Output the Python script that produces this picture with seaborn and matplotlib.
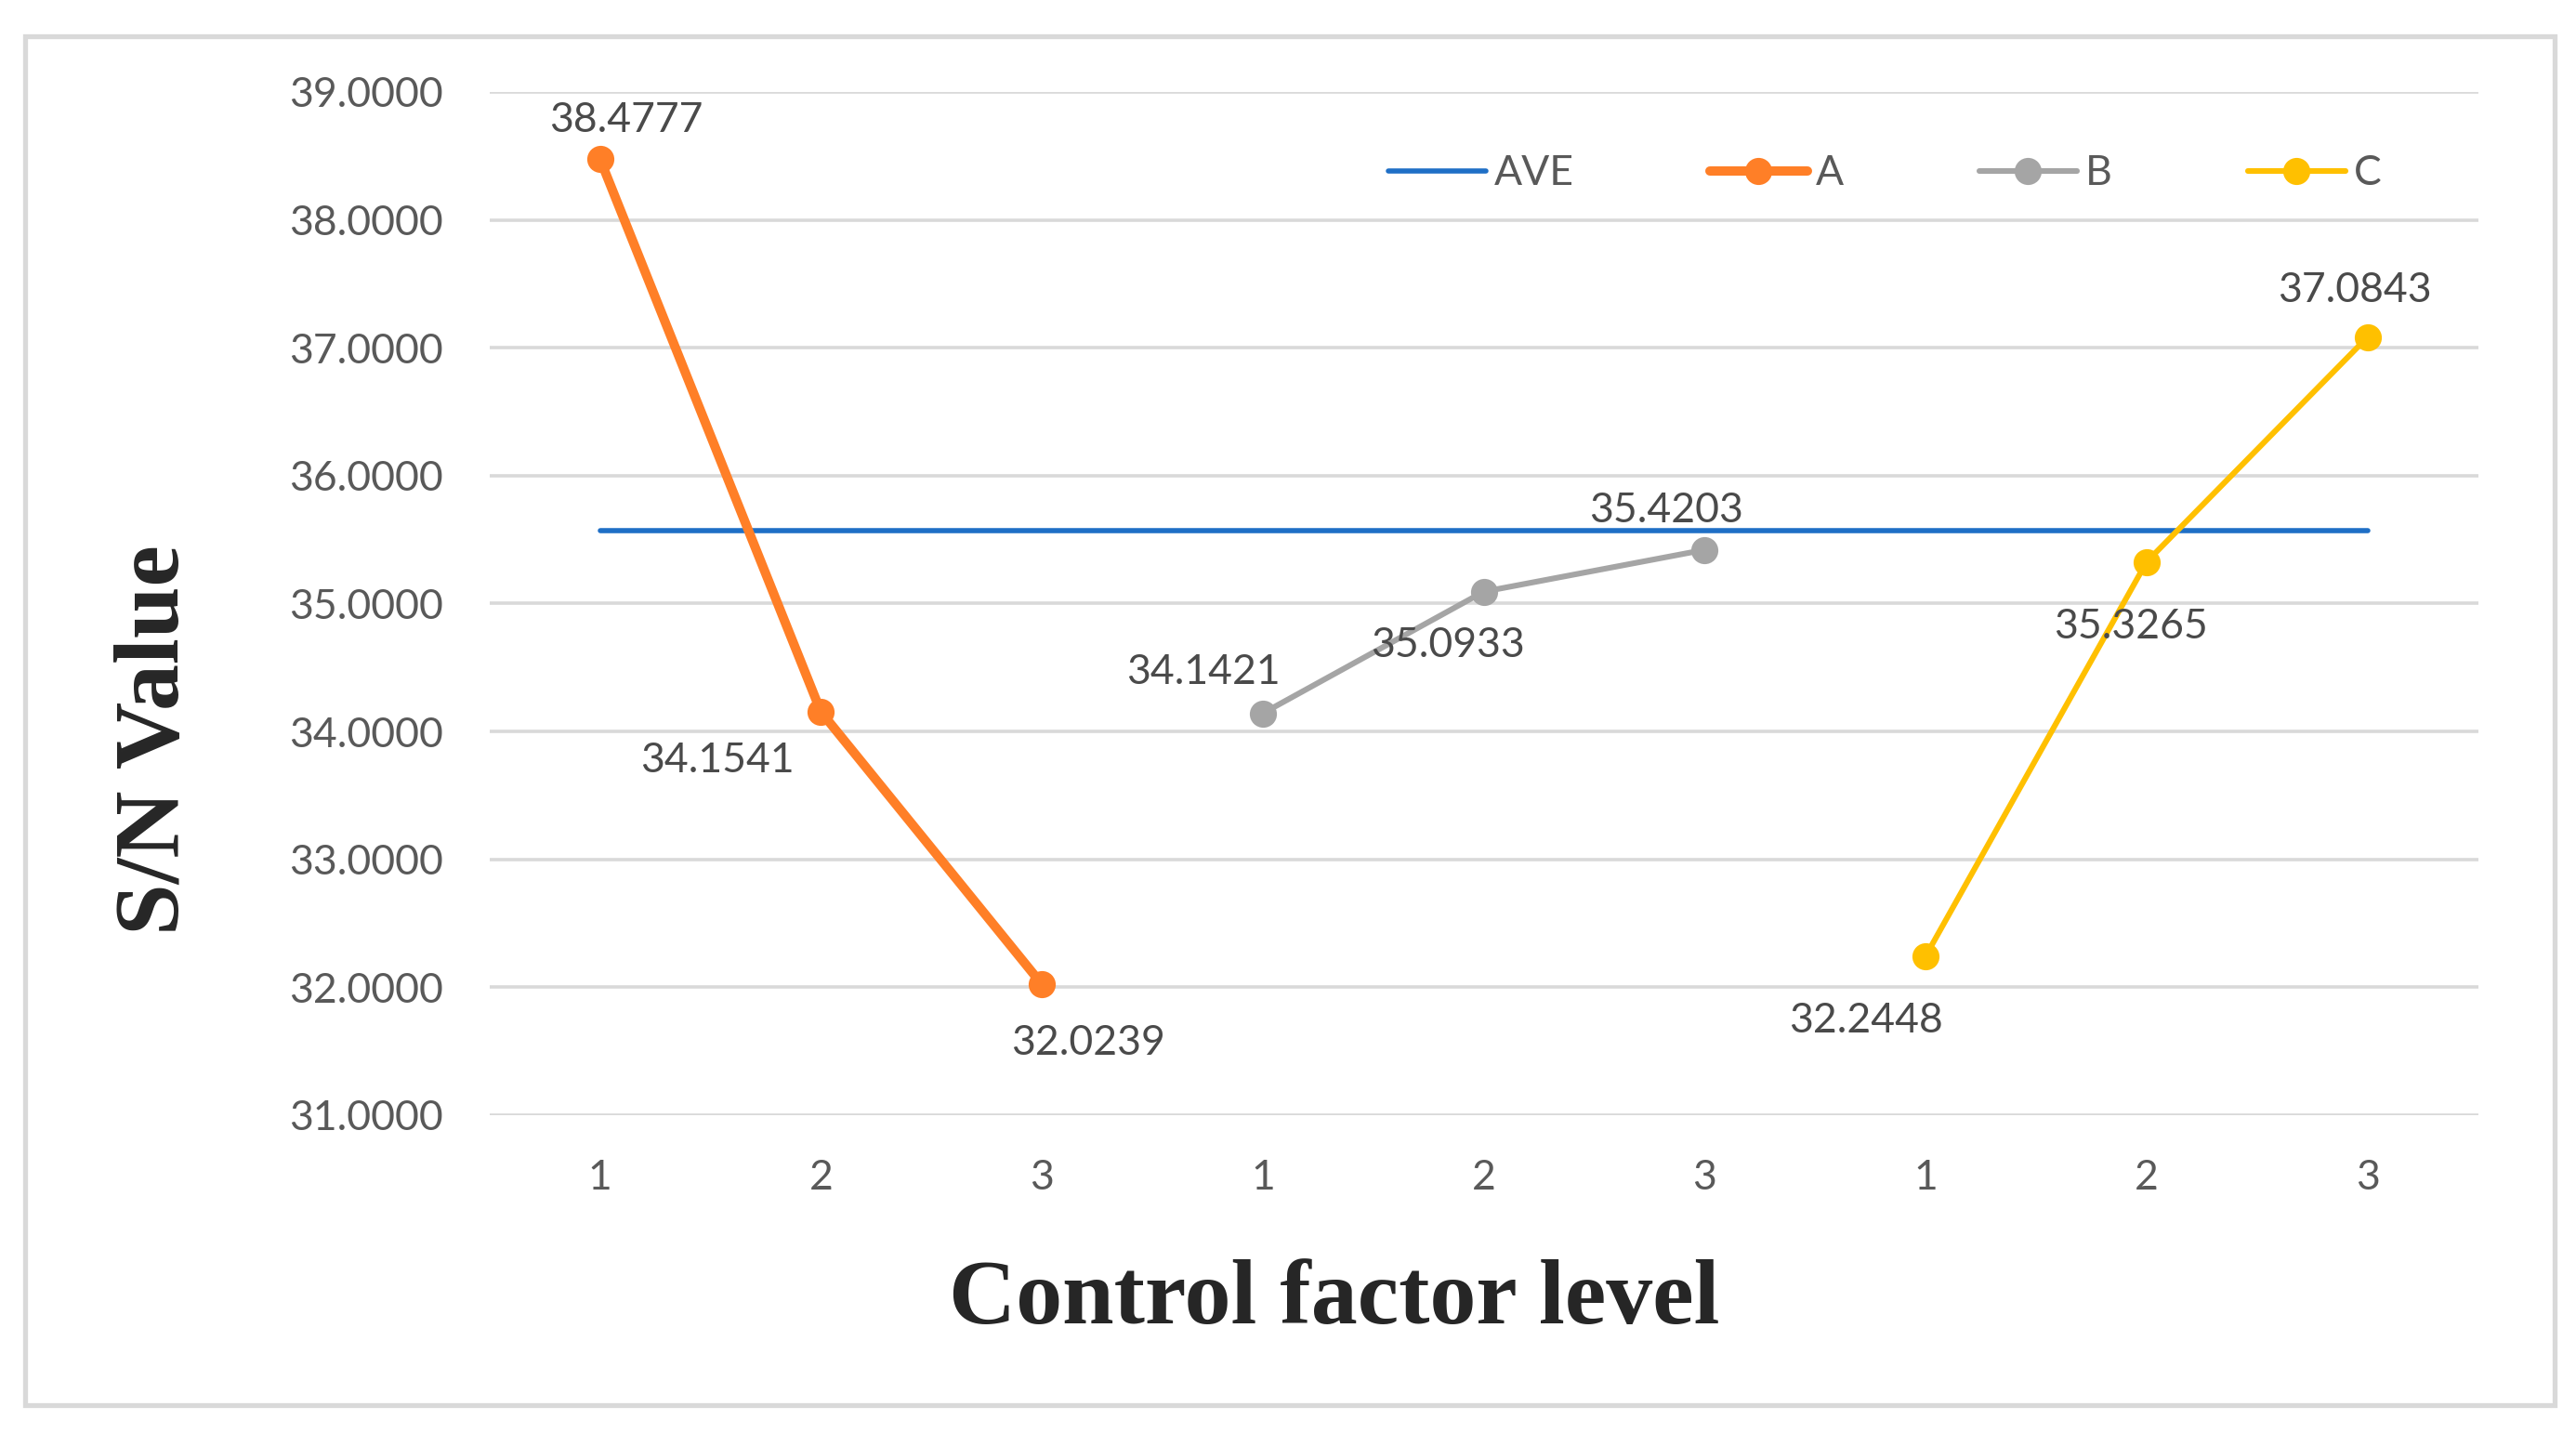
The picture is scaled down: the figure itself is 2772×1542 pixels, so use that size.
import matplotlib
matplotlib.use("Agg")
import matplotlib.pyplot as plt
import seaborn as sns
import pandas as pd
from matplotlib.patches import Rectangle

sns.set_theme(style="white")
plt.rcParams["font.family"] = ["Lato", "DejaVu Sans"]

# données
niveaux = ["1", "2", "3", "1", "2", "3", "1", "2", "3"]
facteurs = ["A", "B", "C"]
valeurs_a = [38.4777, 34.1541, 32.0239]
valeurs_b = [34.1421, 35.0933, 35.4203]
valeurs_c = [32.2448, 35.3265, 37.0843]
moyenne = 35.57
y_ticks = [31, 32, 33, 34, 35, 36, 37, 38, 39]

couleurs = {"AVE": "#1F6FC6", "A": "#FF7F27", "B": "#A5A5A5", "C": "#FFC000"}
epaisseurs = {"A": 3.6, "B": 2.2, "C": 2.2}
# décalage des étiquettes (points)
decalages = [(10, 15), (-40, -19), (18, -23), (-23, 16), (-14, -21), (-15, 15),
             (-23, -25), (-6, -25), (-5, 18)]

df = pd.DataFrame({
    "pos": list(range(9)),
    "valeur": valeurs_a + valeurs_b + valeurs_c,
    "facteur": [f for f in facteurs for _ in range(3)],
})

fig = plt.figure(figsize=(13.86, 7.71), dpi=200)
ax = fig.add_axes([0.190, 0.2218, 0.772, 0.714])

# ligne de moyenne
ax.plot([0, 8], [moyenne, moyenne], color=couleurs["AVE"], lw=2.0, label="AVE", zorder=2)

for f in facteurs:
    sub = df[df["facteur"] == f]
    sns.lineplot(data=sub, x="pos", y="valeur", ax=ax, color=couleurs[f], lw=epaisseurs[f],
                 marker="o", markersize=10.5, markeredgewidth=0, label=f, zorder=3)

for (x, y), d in zip(zip(df["pos"], df["valeur"]), decalages):
    ax.annotate(f"{y:.4f}", (x, y), xytext=d, textcoords="offset points",
                ha="center", va="center", fontsize=16, color="#4A4A4A")

ax.set_xlim(-0.5, 8.5)
ax.set_ylim(31, 39)
ax.set_yticks(y_ticks)
ax.set_yticklabels([f"{v:.4f}" for v in y_ticks])
ax.set_xticks(range(9))
ax.set_xticklabels(niveaux)
ax.tick_params(axis="both", length=0, labelsize=16, labelcolor="#595959")
ax.tick_params(axis="y", pad=18)
ax.tick_params(axis="x", pad=17)
ax.grid(axis="y", color="#D9D9D9", lw=1.3)
ax.set_axisbelow(True)
for s in ax.spines.values():
    s.set_visible(False)
ax.set_xlabel("")
ax.set_ylabel("")

ax.get_legend().remove()
h, l = ax.get_legend_handles_labels()
leg = fig.legend(h, l, loc="center left", bbox_to_anchor=(0.539, 0.879), ncol=4,
                 frameon=False, borderpad=0, borderaxespad=0, fontsize=16,
                 handlelength=2.35, handletextpad=0.2, columnspacing=3.3)
for t in leg.get_texts():
    t.set_color("#595959")

fig.text(0.518, 0.092, "Control factor level", ha="center", va="center",
         family="Liberation Serif", fontweight="bold", fontsize=36)
fig.text(0.0606, 0.484, "S/N Value", ha="center", va="center", rotation=90,
         family="Liberation Serif", fontweight="bold", fontsize=36)

fig.patches.append(Rectangle((0.0097, 0.0195), 0.982, 0.955, transform=fig.transFigure,
                             fill=False, edgecolor="#D9D9D9", lw=1.9))

fig.savefig("out.png", dpi=200)
